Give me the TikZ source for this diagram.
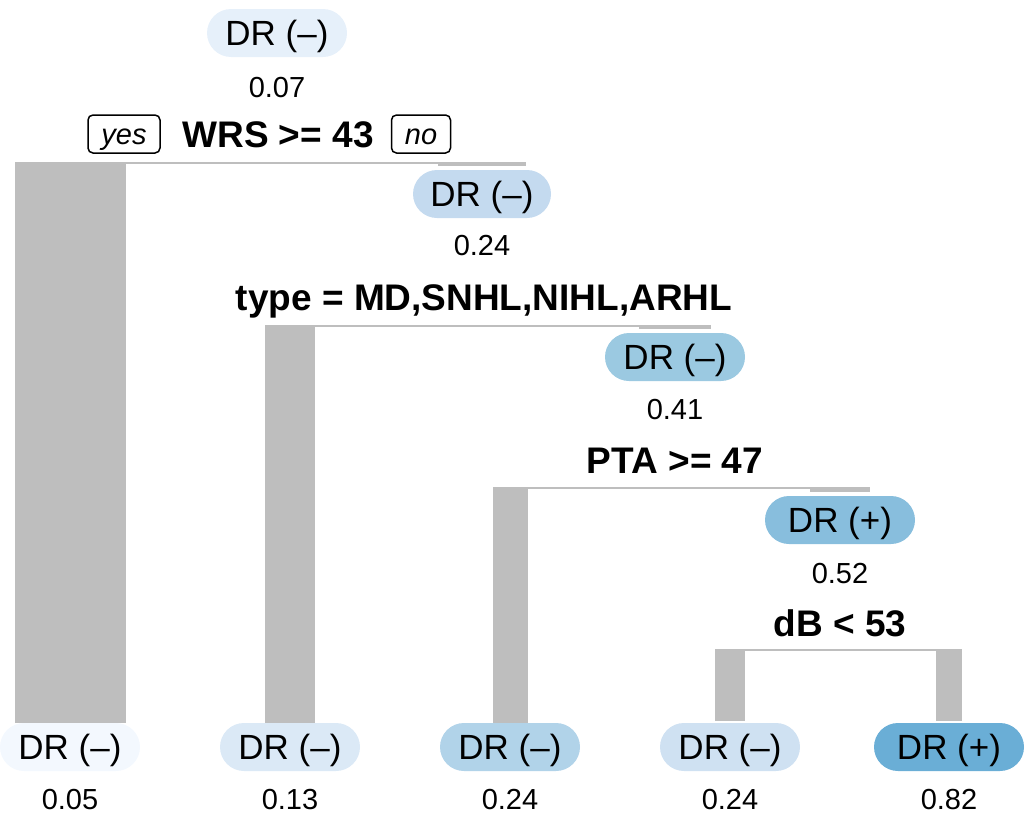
\documentclass[tikz,border=0pt]{standalone}
\usepackage{fontspec}
\setmainfont{Liberation Sans}
\usetikzlibrary{backgrounds}
\definecolor{cRoot}{HTML}{E6F0FA}
\definecolor{cNtwo}{HTML}{C4DAEF}
\definecolor{cNthree}{HTML}{9BC9E1}
\definecolor{cNfour}{HTML}{88BEDD}
\definecolor{cLone}{HTML}{F3F8FE}
\definecolor{cLtwo}{HTML}{DBE9F6}
\definecolor{cLthree}{HTML}{B1D3E9}
\definecolor{cLfour}{HTML}{CFE1F2}
\definecolor{cLfive}{HTML}{6AAED6}
\definecolor{bargrey}{HTML}{BEBEBE}
\begin{document}
\begin{tikzpicture}[x=1pt,y=-1pt,
  pill/.style={rounded corners=24pt, minimum height=48pt, minimum width=140pt,
    inner sep=0pt, font=\fontsize{35}{40}\selectfont, text height=25pt, text depth=0pt},
  val/.style={inner sep=0pt, font=\fontsize{29}{34}\selectfont, text height=21pt, text depth=0pt},
  splitlbl/.style={inner sep=0pt, font=\fontsize{37}{42}\selectfont\bfseries, text height=27pt, text depth=0pt},
  yn/.style={draw=black, line width=1.5pt, rounded corners=5pt, inner sep=0pt,
    minimum height=38pt, font=\fontsize{29}{32}\selectfont\itshape, text height=21pt, text depth=0pt},
  hline/.style={draw=bargrey, line width=2.5pt},
  brbar/.style={draw=bargrey, line cap=butt}
]
\useasboundingbox (0,0) rectangle (1028,814);

% internal nodes
\node[pill, fill=cRoot] (n1) at (277,33) {DR (–)};
\node[val] (v1) at (277,87) {0.07};
\node[splitlbl] (s1lbl) at (278,134) {WRS >= 43};
\node[yn, minimum width=72pt] (yes) at (124,134) {yes};
\node[yn, minimum width=59pt] (no) at (421,134) {no};

\node[pill, fill=cNtwo, minimum width=138pt] (n2) at (482,194) {DR (–)};
\node[val] (v2) at (482,245) {0.24};
\node[splitlbl] (s2lbl) at (484,297) {type = MD,SNHL,NIHL,ARHL};

\node[pill, fill=cNthree] (n3) at (675,357) {DR (–)};
\node[val] (v3) at (675,409) {0.41};
\node[splitlbl] (s3lbl) at (675,460) {PTA >= 47};

\node[pill, fill=cNfour, minimum width=150pt] (n4) at (840,520) {DR (+)};
\node[val] (v4) at (840,573) {0.52};
\node[splitlbl] (s4lbl) at (840,623) {dB < 53};

% leaves
\node[pill, fill=cLone] (l1) at (70,747) {DR (–)};
\node[pill, fill=cLtwo] (l2) at (290,747) {DR (–)};
\node[pill, fill=cLthree] (l3) at (510,747) {DR (–)};
\node[pill, fill=cLfour] (l4) at (730,747) {DR (–)};
\node[pill, fill=cLfive, minimum width=150pt] (l5) at (949,747) {DR (+)};
\node[val] (lv1) at (70,799) {0.05};
\node[val] (lv2) at (290,799) {0.13};
\node[val] (lv3) at (510,799) {0.24};
\node[val] (lv4) at (730,799) {0.24};
\node[val] (lv5) at (949,799) {0.82};

% split points
\coordinate (p1) at (277,163);
\coordinate (p2) at (483,326);
\coordinate (p3) at (675,488);
\coordinate (p4) at (840,650);

\begin{scope}[on background layer]
  % split 1
  \draw[hline] (l1 |- p1) -- (n2 |- p1);
  \draw[brbar, line width=111pt] ([yshift=1pt]l1.center |- p1) -- (l1.north);
  \draw[brbar, line width=88pt] ([yshift=1pt]n2.center |- p1) -- ([yshift=4pt]n2.north);
  % split 2
  \draw[hline] (l2 |- p2) -- (n3 |- p2);
  \draw[brbar, line width=50pt] ([yshift=1pt]l2.center |- p2) -- (l2.north);
  \draw[brbar, line width=72pt] ([yshift=1pt]n3.center |- p2) -- ([yshift=4pt]n3.north);
  % split 3
  \draw[hline] (l3 |- p3) -- (n4 |- p3);
  \draw[brbar, line width=35pt] ([yshift=1pt]l3.center |- p3) -- (l3.north);
  \draw[brbar, line width=60pt] ([yshift=1pt]n4.center |- p3) -- ([yshift=4pt]n4.north);
  % split 4
  \draw[hline] (l4 |- p4) -- (l5 |- p4);
  \draw[brbar, line width=30pt] ([yshift=1pt]l4.center |- p4) -- ([yshift=2pt]l4.north);
  \draw[brbar, line width=26pt] ([yshift=1pt]l5.center |- p4) -- ([yshift=2pt]l5.north);
\end{scope}
\end{tikzpicture}
\end{document}
